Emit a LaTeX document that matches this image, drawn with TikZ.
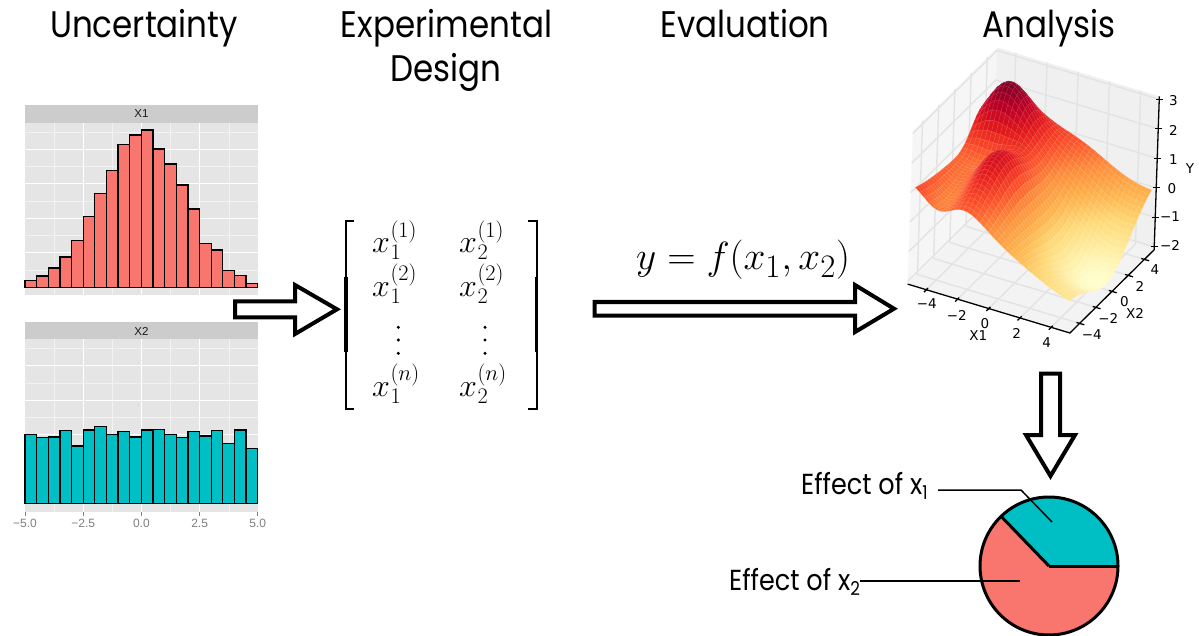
\documentclass[tikz,border=0pt]{standalone}
\usepackage[no-math]{fontspec}
\usepackage{graphicx}
\newfontfamily\fut{Poppins}[FakeStretch=0.88]
\newfontfamily\djv{DejaVu Sans}
\newfontfamily\lib{Liberation Sans}
\definecolor{ggred}{HTML}{F8766D}
\definecolor{ggteal}{HTML}{00BFC4}
\definecolor{panelg}{HTML}{E5E5E5}
\definecolor{stripg}{HTML}{CCCCCC}
\definecolor{minorg}{HTML}{F2F2F2}
\definecolor{ticklab}{HTML}{7F7F7F}
\definecolor{striptxt}{HTML}{1A1A1A}
\definecolor{paneL}{HTML}{F6F6F6}
\definecolor{paneB}{HTML}{F0F0F0}
\definecolor{paneF}{HTML}{F3F3F3}
\definecolor{pgrid}{HTML}{E3E3E3}
\tikzset{
  ttl/.style={font=\fut\fontsize{37}{44}\selectfont, inner sep=0pt, anchor=base},
  efl/.style={font=\fut\fontsize{29}{34}\selectfont, inner sep=0pt, anchor=base west},
  blockarrow/.style={draw=black, line width=4pt, fill=white, line join=miter},
  gmajor/.style={draw=white, line width=1.2pt},
  gminor/.style={draw=minorg, line width=0.6pt},
  barA/.style={fill=ggred, draw=black, line width=1.3pt},
  barB/.style={fill=ggteal, draw=black, line width=1.3pt},
  striplab/.style={font=\lib\fontsize{11.5}{13}\selectfont, text=striptxt, inner sep=0pt},
  histtick/.style={font=\lib\fontsize{12}{14}\selectfont, text=ticklab, inner sep=0pt},
  mtx/.style={font=\fontsize{24.88}{30}\selectfont, inner sep=0pt, anchor=base west},
  axlab/.style={font=\djv\fontsize{13.5}{15}\selectfont, inner sep=0pt},
  panegrid/.style={draw=pgrid, line width=1.4pt},
  axline/.style={draw=black, line width=1.3pt},
  pieline/.style={draw=black, line width=3pt},
  leader/.style={draw=black, line width=1.5pt}
}
\newcommand\mx[2]{\scalebox{1.286}{$x$\kern0.4pt\rlap{\raisebox{-4.9pt}{\fontsize{17.28}{20}\selectfont$#1$}}\raisebox{12.3pt}{\fontsize{17.28}{20}\selectfont$(#2)$}}}
\newcommand\sub[1]{\raisebox{-5.5pt}{\fontsize{19}{20}\selectfont #1}}
\newcommand\zfun[2]{%
  \pgfmathsetmacro\zzu{(#1+5)/10}%
  \pgfmathsetmacro\zzv{(#2+5)/10}%
  \pgfmathsetmacro\zres{1.24*(1-\zzu)*(1-\zzv)-0.94*\zzu*(1-\zzv)+0.3*(1-\zzu)*\zzv+0.05*\zzu*\zzv
   +2.0*exp(-min(9,(#1+3.6)^2/3.5+(#2-3.3)^2/4))
   +0.8*exp(-min(9,(#1+0.5)^2/12+(#2-5)^2/6))
   +1.5*exp(-min(9,(#1+1.8)^2/3.4+(#2+1)^2/12))
   -0.6*exp(-min(9,(#1+2.8)^2/2+(#2-1)^2/2))
   -0.7*exp(-min(9,(#1+3.5)^2/1.5+(#2+3)^2/10))
   -1.5*exp(-min(9,(#1-4)^2/7+(#2)^2/12))}%
}
\def\cmR{{255,255,254,254,253,252,227,189,128}}
\def\cmG{{255,237,217,178,141,78,26,0,0}}
\def\cmB{{204,160,118,76,60,42,28,38,38}}
\begin{document}
\begin{tikzpicture}[x=1pt,y=-1pt]
\useasboundingbox (0,0) rectangle (1199,636);
\fill[white] (0,0) rectangle (1199,636);

% ---------- titles
\node[ttl] (t1) at (144,38) {Uncertainty};
\node[ttl] (t2) at (446.5,38) {Experimental};
\node[ttl] (t2b) at (446,82) {Design};
\node[ttl] (t3) at (745,38) {Evaluation};
\node[ttl] (t4) at (1049,38) {Analysis};

% ---------- histogram X1
\fill[stripg] (25,105) rectangle (257.7,122.7);
\node[striplab] (s1) at (141.4,114) {X1};
\fill[panelg] (25,122.7) rectangle (257.7,295);
\foreach \yy in {132,166.5,201,235.5,270} \draw[gminor] (25,\yy) -- (257.7,\yy);
\foreach \xx in {54.1,112.4,170.6,228.9} \draw[gminor] (\xx,122.7) -- (\xx,295);
\foreach \yy in {149.3,183.8,218.3,252.8} \draw[gmajor] (25,\yy) -- (257.7,\yy);
\foreach \xx in {83.25,141.4,199.6} \draw[gmajor] (\xx,122.7) -- (\xx,295);
\foreach \t [count=\n from 0] in {280.7,276,268,257,240.3,216.3,193.7,170.7,144.3,135,130,149,164,185,209,243.7,250,270.3,275.3,283.3}{
  \pgfmathsetmacro\bx{25+\n*11.635}
  \filldraw[barA] (\bx,287.3) rectangle (\bx+11.635,\t);
}

% ---------- histogram X2
\fill[stripg] (25,322.3) rectangle (257.7,339.3);
\node[striplab] (s2) at (141.4,331) {X2};
\fill[panelg] (25,339.3) rectangle (257.7,511.7);
\foreach \yy in {348.5,383,417.5,452,486.5} \draw[gminor] (25,\yy) -- (257.7,\yy);
\foreach \xx in {54.1,112.4,170.6,228.9} \draw[gminor] (\xx,339.3) -- (\xx,511.7);
\foreach \yy in {365.7,400.2,434.7,469.2} \draw[gmajor] (25,\yy) -- (257.7,\yy);
\foreach \xx in {83.25,141.4,199.6} \draw[gmajor] (\xx,339.3) -- (\xx,511.7);
\foreach \t [count=\n from 0] in {434.3,437.7,437,430.3,446,430,426.7,434.3,431.3,437,430,429.3,434.3,437.3,431.3,436,430.7,443.7,430,448.7}{
  \pgfmathsetmacro\bx{25+\n*11.635}
  \filldraw[barB] (\bx,503.7) rectangle (\bx+11.635,\t);
}
\foreach \xx/\lab [count=\n] in {25/{−5.0},83.25/{−2.5},141.4/{0.0},199.6/{2.5},257.7/{5.0}}{
  \draw[ticklab, line width=1pt] (\xx,511.7) -- (\xx,515.5);
  \node[histtick] (hx\n) at (\xx,523.5) {\lab};
}

% ---------- arrow 1
\draw[blockarrow] (235,301.3) -- (295,301.3) -- (295,285) -- (337,309.3) -- (295,334) -- (295,317.3) -- (235,317.3) -- cycle;

% ---------- matrix
\draw[line width=2pt] (354,221) -- (345.5,221) -- (345.5,409) -- (354,409);
\draw[line width=3.4pt] (345.9,277) -- (345.9,352);
\draw[line width=2pt] (528,221) -- (537,221) -- (537,409) -- (528,409);
\draw[line width=3.4pt] (536.6,277) -- (536.6,352);
\node[mtx] (m11) at (372,253) {\mx{1}{1}};
\node[mtx] (m12) at (459,253) {\mx{2}{1}};
\node[mtx] (m21) at (372,296.7) {\mx{1}{2}};
\node[mtx] (m22) at (459,296.7) {\mx{2}{2}};
\node[mtx] (mn1) at (372,396.7) {\mx{1}{n}};
\node[mtx] (mn2) at (459,396.7) {\mx{2}{n}};
\foreach \yy in {327.3,340,353.3}{
  \fill (398.3,\yy) circle (1.7);
  \fill (485,\yy) circle (1.7);
}

% ---------- arrow 2 and equation
\node[font=\fontsize{24.88}{30}\selectfont, inner sep=0pt, anchor=base west] (eq) at (636,270) {\scalebox{1.58}{$y = f(x_1, x_2)$}};
\draw[blockarrow] (594.7,302) -- (855,302) -- (855,285) -- (894,308.7) -- (855,332) -- (855,315.5) -- (594.7,315.5) -- cycle;

% ---------- 3D plot
\begin{scope}[shift={(1031,264)}, x={(15.6pt,-4.7pt)}, y={(8.1pt,8pt)}, z={(1pt,29.5pt)}]
  \fill[paneF] (-5.2,-5.2,-0.1) -- (5.2,-5.2,-0.1) -- (5.2,5.2,-0.1) -- (-5.2,5.2,-0.1) -- cycle;
  \fill[paneL] (-5.2,-5.2,-0.1) -- (-5.2,5.2,-0.1) -- (-5.2,5.2,5.1) -- (-5.2,-5.2,5.1) -- cycle;
  \fill[paneB] (-5.2,5.2,-0.1) -- (5.2,5.2,-0.1) -- (5.2,5.2,5.1) -- (-5.2,5.2,5.1) -- cycle;
  \foreach \k in {-4,-2,0,2,4}{
    \draw[panegrid] (\k,-5.2,-0.1) -- (\k,5.2,-0.1) -- (\k,5.2,5.1);
    \draw[panegrid] (-5.2,\k,5.1) -- (-5.2,\k,-0.1) -- (5.2,\k,-0.1);
  }
  \foreach \k in {0,...,5}{
    \draw[panegrid] (-5.2,-5.2,\k) -- (-5.2,5.2,\k) -- (5.2,5.2,\k);
  }
  \gdef\zmin{100}\gdef\zmax{-100}
  \foreach \ix in {0,...,36}{
    \foreach \jy in {0,...,36}{
      \pgfmathsetmacro\xa{-5+\ix*0.2777778}
      \pgfmathsetmacro\ya{-5+\jy*0.2777778}
      \zfun{\xa}{\ya}
      \expandafter\xdef\csname zz@\ix @\jy\endcsname{\zres}
      \pgfmathsetmacro\tmpa{min(\zmin,\zres)}\xdef\zmin{\tmpa}
      \pgfmathsetmacro\tmpb{max(\zmax,\zres)}\xdef\zmax{\tmpb}
    }
  }
  \foreach \ix in {0,...,35}{
    \foreach \jj in {0,...,35}{
      \pgfmathtruncatemacro\jy{35-\jj}
      \pgfmathtruncatemacro\ixp{\ix+1}
      \pgfmathtruncatemacro\jyp{\jy+1}
      \edef\za{\csname zz@\ix @\jy\endcsname}
      \edef\zb{\csname zz@\ixp @\jy\endcsname}
      \edef\zc{\csname zz@\ixp @\jyp\endcsname}
      \edef\zd{\csname zz@\ix @\jyp\endcsname}
      \pgfmathsetmacro\xa{-5+\ix*0.2777778}
      \pgfmathsetmacro\xb{-5+\ixp*0.2777778}
      \pgfmathsetmacro\ya{-5+\jy*0.2777778}
      \pgfmathsetmacro\yb{-5+\jyp*0.2777778}
      \pgfmathsetmacro\tpos{8*((\za+\zb+\zc+\zd)/4-\zmin)/(\zmax-\zmin)}
      \pgfmathtruncatemacro\kk{min(7,max(0,floor(\tpos)))}
      \pgfmathtruncatemacro\kq{\kk+1}
      \pgfmathsetmacro\frc{\tpos-\kk}
      \pgfmathtruncatemacro\cR{\cmR[\kk]*(1-\frc)+\cmR[\kq]*\frc}
      \pgfmathtruncatemacro\cG{\cmG[\kk]*(1-\frc)+\cmG[\kq]*\frc}
      \pgfmathtruncatemacro\cB{\cmB[\kk]*(1-\frc)+\cmB[\kq]*\frc}
      \definecolor{cellc}{RGB}{\cR,\cG,\cB}
      \filldraw[fill=cellc, draw=cellc!82!white, line width=0.3pt] (\xa,\ya,\za+2) -- (\xb,\ya,\zb+2) -- (\xb,\yb,\zc+2) -- (\xa,\yb,\zd+2) -- cycle;
    }
  }
  \draw[axline] (-5.2,-5.2,-0.1) -- (5.2,-5.2,-0.1) -- (5.2,5.2,-0.1) -- (5.2,5.2,5.1);
  \foreach \k in {-4,-2,0,2,4}{
    \draw[axline] (\k,-5.0,-0.1) -- (\k,-5.5,-0.1);
    \draw[axline] (5.0,\k,-0.1) -- (5.5,\k,-0.1);
  }
  \foreach \k in {0,...,5}{
    \draw[axline] (5.2,5.2,\k) ++(-3pt,0pt) -- ++(7pt,0pt);
  }
\end{scope}
\node[axlab] (x1a) at (926.7,303.3) {−4};
\node[axlab] (x1b) at (956.7,315) {−2};
\node[axlab] (x1c) at (985,323.3) {0};
\node[axlab] (x1d) at (1016.7,333.3) {2};
\node[axlab] (x1e) at (1046.7,342.7) {4};
\node[axlab] (x1t) at (978.3,336) {X1};
\node[axlab] (x2a) at (1091.7,335) {−4};
\node[axlab] (x2b) at (1108.3,318.3) {−2};
\node[axlab] (x2c) at (1124.3,301.7) {0};
\node[axlab] (x2d) at (1140,286.7) {2};
\node[axlab] (x2e) at (1155,270) {4};
\node[axlab] (x2t) at (1135,313.3) {X2};
\node[axlab] (z3) at (1173.3,100.5) {3};
\node[axlab] (z2) at (1173.3,130) {2};
\node[axlab] (z1) at (1173.3,159.5) {1};
\node[axlab] (z0) at (1172,188.3) {0};
\node[axlab] (zm1) at (1170,216.7) {−1};
\node[axlab] (zm2) at (1170,245) {−2};
\node[axlab] (zt) at (1190,168.3) {Y};

% ---------- down arrow
\draw[blockarrow] (1041,373.5) -- (1060,373.5) -- (1060,435) -- (1075,435) -- (1050.5,476) -- (1026,435) -- (1041,435) -- cycle;

% ---------- pie
\coordinate (pc) at (1049,566);
\fill[ggred] (pc) circle (69);
\fill[ggteal] (pc) -- ++(0:69) arc[start angle=0, end angle=-134, radius=69] -- cycle;
\draw[pieline] (pc) -- ++(0:69);
\draw[pieline] (pc) -- ++(-134:69);
\draw[pieline] (pc) circle (69);
\node[efl] (e1) at (801,494) {Effect of x\sub{1}};
\node[efl] (e2) at (729,590) {Effect of x\sub{2}};
\coordinate (e1a) at (938,490);
\coordinate (e1b) at (1021,490);
\coordinate (e1c) at (1052,522);
\coordinate (e2a) at (860,581);
\coordinate (e2b) at (1020,581);
\draw[leader] (e1a) -- (e1b) -- (e1c);
\draw[leader] (e2a) -- (e2b);
\end{tikzpicture}
\end{document}
